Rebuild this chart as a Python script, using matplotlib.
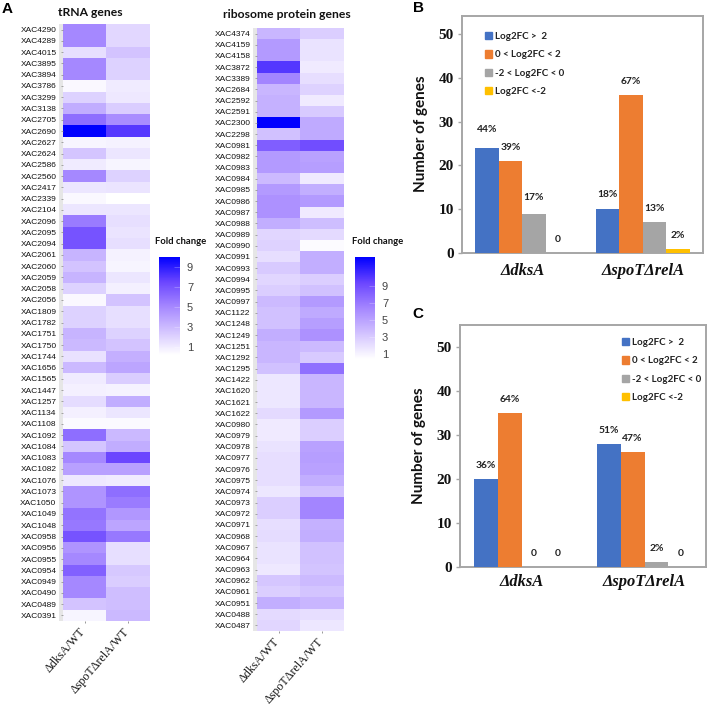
import matplotlib
matplotlib.use("Agg")
import matplotlib.pyplot as plt
from matplotlib.colors import LinearSegmentedColormap, Normalize
from matplotlib.cm import ScalarMappable
from matplotlib.patches import Patch

W, H = 709, 706

trna_genes = """4290 4289 4015 3895 3894 3786 3299 3138 2705 2690 2627 2624 2586 2560 2417 2339 2104 2096 2095 2094
2061 2060 2059 2058 2056 1809 1782 1751 1750 1744 1656 1565 1447 1257 1134 1108 1092 1084 1083 1082 1076 1073 1050
1049 1048 0958 0956 0955 0954 0949 0490 0489 0391""".split()
trna_dksa = [5, 5, 1.5, 5, 5, .5, 2, 3.5, 6, 10, .6, 2.5, 1, 5, 1.2, .5, 1.2, 5.5, 7, 7,
             3.2, 2.6, 3.2, 2, .5, 2, 2, 3.2, 3, 1.4, 3, 1, .8, 1.6, .8, .4, 6, 2.5, 5, 4, 1.1, 4.5, 4.5,
             5.8, 5.6, 7, 4.5, 5, 6.5, 5, 5, 2.6, .6]
trna_spot = [1.8, 1.8, 2.6, 2, 2, 1, 1.1, 2.2, 4.8, 8, .7, 1.2, .6, 2, 1.3, .1, 1.2, 1.5, 1.3, 1.5,
             .7, .6, 1.2, .8, 2.6, 1.5, 1.5, 2, 2.6, 3.4, 3.8, 2.2, .7, 3.5, 1.2, .4, 3, 3.5, 7.5, 4, 1, 6, 5.5,
             4.4, 3.8, 5.6, 1.5, 1.5, 2.4, 2.2, 2.8, 2.8, 3]

rp_genes = """4374 4159 4158 3872 3389 2684 2592 2591 2300 2298 0981 0982 0983 0984 0985 0986 0987 0988 0989 0990
0991 0993 0994 0995 0997 1122 1248 1249 1251 1292 1295 1422 1620 1621 1622 0980 0979 0978 0977 0976 0975 0974
0973 0972 0971 0968 0967 0964 0963 0962 0961 0951 0488 0487""".split()
rp_dksa = [4, 5.4, 5.4, 10, 6.4, 4, 4.2, 4.2, 12.4, 3.4, 8.2, 5.4, 5.4, 3.8, 5.4, 5.8, 5.8, 4.4, 2.4, 2.6,
           2, 3, 2.4, 2.8, 3.8, 3.4, 3.4, 4.4, 4, 4, 3.4, 1.6, 1.6, 1.6, 2.2, 1.4, 1.4, 1.8, 2, 2, 2, 1.6,
           2.8, 2.8, 2, 2.1, 1.8, 1.8, 1.5, 3.2, 2.8, 4.4, 2.2, 2.4]
rp_spot = [2.8, 1.8, 1.8, 1.4, 2, 2.6, 1.4, 3, 4.6, 4.6, 9, 5, 5.2, 1.4, 4.4, 5.4, 1.4, 3.6, 2.2, .6,
           4.4, 4.4, 2.8, 3.4, 5.4, 4.6, 5.2, 5.8, 3.8, 3, 7.4, 4, 4, 4, 5.4, 2.8, 2.8, 5, 5.2, 5, 4.4, 3.4,
           6.4, 6.4, 4.2, 4.4, 3.4, 3.4, 3.3, 3.8, 3.3, 4, 2, 1.6]

strains_heat = ["\u0394dksA/WT", "\u0394spoT\u0394relA/WT"]
strains_bar = ["\u0394dksA", "\u0394spoT\u0394relA"]
bins = ["Log2FC >  2", "0 < Log2FC < 2", "-2 < Log2FC < 0", "Log2FC <-2"]
bar_colors = ["#4472c4", "#ed7d31", "#a5a5a5", "#ffc000"]
b_counts = [[24, 10], [21, 36], [9, 7], [0, 1]]
b_labels = [["44%", "18%"], ["39%", "67%"], ["17%", "13%"], ["0", "2%"]]
c_counts = [[20, 28], [35, 26], [0, 1], [0, 0]]
c_labels = [["36%", "51%"], ["64%", "47%"], ["0", "2%"], ["0", "0"]]
fc_ticks = [1, 3, 5, 7, 9]

cmap = LinearSegmentedColormap.from_list(
    "fc", [(0, "#ffffff"), (.25, "#d2c2ff"), (.5, "#a486ff"), (.75, "#6a45ff"), (1, "#0000ff")])
SANS = "Lato"
SERIF = "Liberation Serif"
ARIAL = "Liberation Sans"


def px_axes(x0, y0, x1, y1):
    return fig.add_axes([x0 / W, 1 - y1 / H, (x1 - x0) / W, (y1 - y0) / H])


def ftext(x, y, s, **kw):
    fig.text(x / W, 1 - y / H, s, **kw)


def heat(box, genes, col1, col2, norm, title, title_xy, cbar_box, cb_title_xy):
    ax = px_axes(*box)
    ax.imshow(list(zip(col1, col2)), cmap=cmap, norm=norm, aspect="auto", interpolation="nearest")
    ax.set_yticks(range(len(genes)))
    ax.set_yticklabels(["XAC" + g for g in genes], fontfamily=ARIAL, fontsize=6.0, color="#111111")
    ax.set_xticks([0, 1])
    ax.set_xticklabels([])
    ax.tick_params(axis="y", length=1.5, width=.5, pad=3.2, color="#888888")
    ax.tick_params(axis="x", length=1.5, width=.6, color="#888888")
    for sp in ax.spines.values():
        sp.set_visible(False)
    # pale strip that runs along the left of the cells
    strip = 4 / (box[2] - box[0]) * 2
    ax.add_patch(plt.Rectangle((-0.5 - strip, -0.5), strip, len(genes), color="#e6e6e6", clip_on=False, lw=0))
    for i, s in enumerate(strains_heat):
        ax.annotate(s, (i, len(genes) - .5), xytext=(-4, -3.5), textcoords="offset points",
                    rotation=49, rotation_mode="anchor", ha="right", va="top",
                    fontfamily=SERIF, fontsize=8.6, color="#111111")
    ftext(*title_xy, title, fontfamily=SANS, fontsize=8.7, fontweight="bold",
          ha="center", va="center", color="#111111")
    cax = px_axes(*cbar_box)
    cb = fig.colorbar(ScalarMappable(norm=norm, cmap=cmap), cax=cax, ticks=fc_ticks)
    cb.outline.set_visible(False)
    cb.ax.tick_params(length=4, width=.5, color="#ffffff55", direction="in", pad=5,
                      labelsize=8, labelcolor="#444444")
    for t in cb.ax.get_yticklabels():
        t.set_fontfamily(ARIAL)
    ftext(*cb_title_xy, "Fold change", fontfamily=SANS, fontsize=6.8, fontweight="bold",
          ha="left", va="center", color="#111111")


def bars(box, counts, labels, ymax, leg_xy, ylab_x, ylab_y, tick_y, extra):
    ax = px_axes(*box)
    bw = 0.194
    for i, (vals, labs, color) in enumerate(zip(counts, labels, bar_colors)):
        offs = [(i - 1.5) * bw + g for g in range(2)]
        ax.bar(offs, vals, width=bw, color=color, label=bins[i], zorder=3)
        for j, (x, v, s) in enumerate(zip(offs, vals, labs)):
            ax.annotate(s, (x, v), xytext=(0, 0.72 * (13.6 + extra.get((i, j), 0))),
                        textcoords="offset points", ha="center", va="center",
                        fontfamily=SANS, fontsize=7.4, fontweight="bold", color="#222222")
    ax.set_xlim(-.5, 1.5)
    ax.set_ylim(0, ymax)
    ax.set_yticks(range(0, 51, 10))
    ax.set_xticks([0, 1])
    ax.set_xticklabels([])
    for g, s in enumerate(strains_bar):
        ax.annotate(s, (g, 0), xytext=(0, -(tick_y - box[3]) * .72), textcoords="offset points",
                    ha="center", va="center", fontfamily=SERIF, fontsize=11.9,
                    fontweight="bold", fontstyle="italic", color="#111111")
    ax.tick_params(axis="x", length=0)
    ax.tick_params(axis="y", length=3, width=1, color="#a6a6a6", pad=3)
    for t in ax.get_yticklabels():
        t.set_fontfamily(SERIF)
        t.set_fontweight("bold")
        t.set_fontsize(11)
        t.set_color("#111111")
    for sp in ax.spines.values():
        sp.set_color("#a6a6a6")
        sp.set_linewidth(1.4)
    ftext(ylab_x, ylab_y, "Number of genes", rotation=90, fontfamily=SANS, fontsize=11,
          fontweight="bold", ha="center", va="center", color="#111111")
    handles = [Patch(color=c, label=b) for c, b in zip(bar_colors, bins)]
    fig.legend(handles=handles, loc="upper left", bbox_to_anchor=(leg_xy[0] / W, 1 - leg_xy[1] / H),
               bbox_transform=fig.transFigure, frameon=False, borderpad=0, borderaxespad=0,
               handlelength=.7, handleheight=.8, handletextpad=.3, labelspacing=.95,
               prop={"family": SANS, "size": 7.0, "weight": "bold"}, labelcolor="#222222")


fig = plt.figure(figsize=(W / 100, H / 100), dpi=100)

heat((63, 24, 150, 621), trna_genes, trna_dksa, trna_spot, Normalize(.2, 10), "tRNA genes", (90, 13),
     (159, 257, 180, 355), (155, 241))
heat((257, 28, 344, 631), rp_genes, rp_dksa, rp_spot, Normalize(.4, 12.4), "ribosome protein genes", (287, 14),
     (355, 257, 375, 359), (352, 241))

bars((462, 16, 703, 253), b_counts, b_labels, 54.1, (485, 32), 421, 134, 271, {(0, 0): 5, (0, 1): 1.5, (2, 0): 2})
bars((460, 325, 706, 566.7), c_counts, c_labels, 55, (622, 338), 419, 446, 582, {})

ftext(7, 9, "A", fontfamily=ARIAL, fontsize=11, fontweight="bold", ha="center", va="center")
ftext(418, 8, "B", fontfamily=ARIAL, fontsize=11, fontweight="bold", ha="center", va="center")
ftext(418, 314, "C", fontfamily=ARIAL, fontsize=11, fontweight="bold", ha="center", va="center")

fig.savefig("out.png", dpi=100)
